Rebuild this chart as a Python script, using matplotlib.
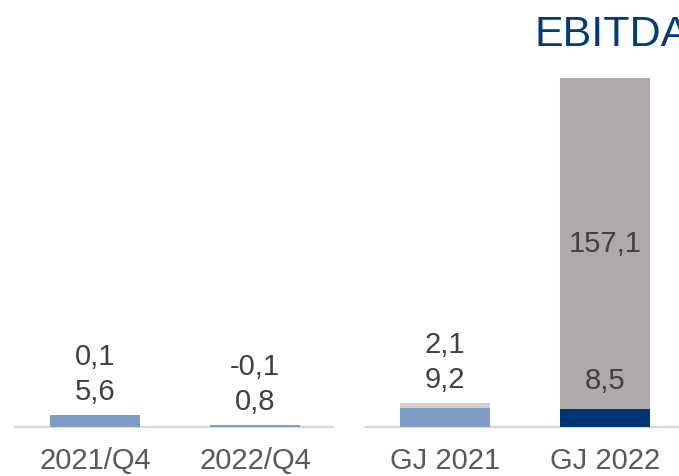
import matplotlib.pyplot as plt

plt.rcParams['font.family'] = ['Liberation Sans', 'DejaVu Sans']

# data
categories = ["2021/Q4", "2022/Q4", "GJ 2021", "GJ 2022"]
base_values = [5.6, 0.8, 9.2, 8.5]
extra_values = [0.1, -0.1, 2.1, 157.1]
base_labels = ["5,6", "0,8", "9,2", "8,5"]
extra_labels = ["0,1", "-0,1", "2,1", "157,1"]

base_colors = ["#7f9cc7", "#7f9cc7", "#7f9cc7", "#003478"]
extra_colors = ["#d0cece", "#d0cece", "#d0cece", "#aeaaaa"]

# layout: two groups with a wider gap between them
group_gap = 1.1875
positions = [0, 1, 1 + group_gap, 2 + group_gap]
bar_width = 0.5625

fig = plt.figure(figsize=(6.79, 4.76), dpi=100)
ax = fig.add_axes([0, 0, 1, 1])
ax.set_xlim(-0.59375, 3.65)
ax.set_ylim(-23.25, 202.6)
ax.axis("off")

for i, pos in enumerate(positions):
    ax.bar(pos, extra_values[i], width=bar_width, bottom=base_values[i],
           color=extra_colors[i], zorder=2)
    ax.bar(pos, base_values[i], width=bar_width, color=base_colors[i], zorder=3)

# baseline, split per group
ax.plot([-0.5, 1.49], [0, 0], color="#d9d9d9", lw=1.6, zorder=1)
ax.plot([1.6875, 3.7], [0, 0], color="#d9d9d9", lw=1.6, zorder=1)

label_color = "#404040"
fs = 21
for i, pos in enumerate(positions):
    top = max(base_values[i], base_values[i] + extra_values[i])
    if extra_values[i] > 50:
        # big segment: label in its middle, base label just above base segment
        ax.annotate(base_labels[i], (pos, base_values[i]), xytext=(0, 28),
                    textcoords="offset pixels", ha="center", va="center",
                    fontsize=fs, color=label_color)
        ax.text(pos, base_values[i] + extra_values[i] / 2, extra_labels[i],
                ha="center", va="center", fontsize=fs, color=label_color)
    else:
        ax.annotate(base_labels[i], (pos, top), xytext=(0, 23),
                    textcoords="offset pixels", ha="center", va="center",
                    fontsize=fs, color=label_color)
        ax.annotate(extra_labels[i], (pos, top), xytext=(0, 58),
                    textcoords="offset pixels", ha="center", va="center",
                    fontsize=fs, color=label_color)
    ax.annotate(categories[i], (pos, 0), xytext=(0, -34),
                textcoords="offset pixels", ha="center", va="center",
                fontsize=fs, color="#595959")

fig.text(535 / 679, 1 - 35 / 476, "EBITDA", ha="left", va="center",
         fontsize=31, color="#003a80")

plt.savefig("out.png", dpi=100)
